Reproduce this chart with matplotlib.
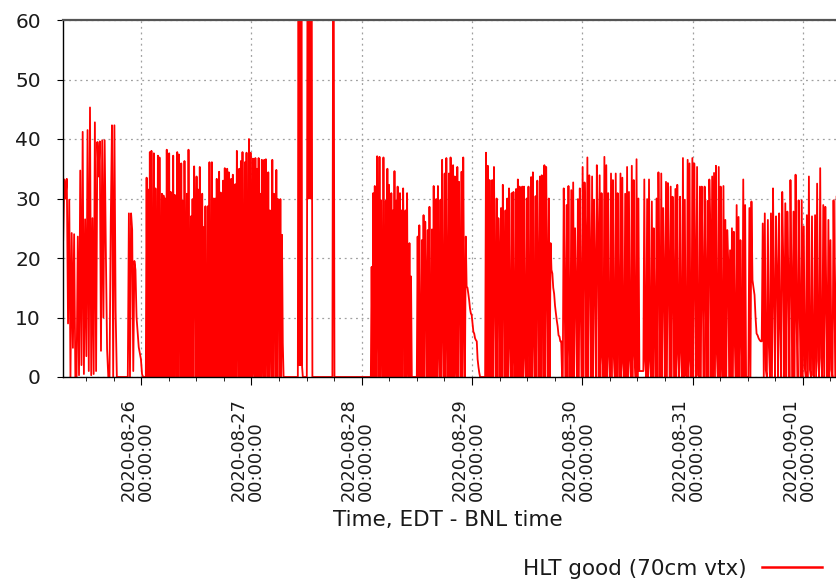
import numpy as np
import pandas as pd
import matplotlib
matplotlib.use("Agg")
import matplotlib.pyplot as plt
import matplotlib.dates as mdates
import matplotlib.transforms as mtransforms
from matplotlib.lines import Line2D

# keep every sample of the dense trace
plt.rcParams["path.simplify"] = False

# HLT good (70cm vtx) rate.
# Each block is a stretch of running; samples are evenly spaced inside a block.
block_starts = ["2020-08-25 07:02", "2020-08-25 21:06", "2020-08-26 01:01",
                "2020-08-27 10:06", "2020-08-27 12:03", "2020-08-27 17:37",
                "2020-08-28 01:59", "2020-08-28 11:59", "2020-08-29 02:51",
                "2020-08-29 19:45", "2020-08-30 13:17", "2020-08-31 12:08"]
block_ends = ["2020-08-25 18:43", "2020-08-26 00:26", "2020-08-27 07:00",
              "2020-08-27 11:11", "2020-08-27 13:16", "2020-08-27 18:04",
              "2020-08-28 10:54", "2020-08-29 01:46", "2020-08-29 19:36",
              "2020-08-30 12:25", "2020-08-31 11:38", "2020-09-01 07:20"]

rate_a = [23, 33.2, 30, 33.3, 9, 29.8, 0, 24.2, 4.9, 24, 0, 0, 23.6, 0.3, 34.7, 2,
          41.2, 0.5, 26.5, 3.5, 41.5, 1, 45.3, 0.3, 26.7, 0.5, 42.8, 1, 39.5, 33.7,
          39.6, 4.4, 39.8, 10, 39.8, 21, 4.7, 0, 0, 26, 42.3, 0, 42.3, 11, 0]
rate_b = [0, 27.5, 0, 27.5, 24.7, 1, 19.5, 18, 10, 7.5, 5, 4, 3, 0.5, 0]
rate_c = [0,
          33.5, 0, 31.5, 0, 37.8, 0, 38, 9.5, 0,
          37.6, 0, 31.7, 9.9, 0,
          37.2, 0, 36.9, 12.4, 0,
          30.8, 0, 30.5, 0, 30, 0, 38.2, 9, 0,
          37.6, 0, 31.1, 19.7, 0,
          37.2, 0, 30.6, 18.8, 0,
          37.8, 0, 37.4, 21.9, 0,
          35.9, 0, 29.6, 0, 36.3, 15.2, 0,
          30.8, 0, 38.2, 12.4, 0,
          27, 0, 29.9, 0, 35.4, 21, 0,
          33.7, 0, 31.5, 0, 35.3, 6.8, 0,
          30.8, 0, 25.2, 0, 28.7, 0.3, 0,
          28.7, 0, 36.1, 2.9, 0,
          36.1, 0, 30, 0, 30, 0, 33.3, 11.3, 0,
          34.5, 0, 31, 1.7, 0,
          33, 0, 35.1, 5.7, 0,
          35, 0, 34.4, 9, 0,
          33.3, 0, 34, 0.3, 0,
          32.4, 0, 38, 13, 0,
          35, 0, 36.3, 0, 37.8, 7.3, 0,
          36.1, 0, 37.7, 0, 0,
          40, 0, 37.7, 13.5, 0,
          36.7, 1.7, 0,
          36.8, 0, 35, 0, 36.8, 0, 30.8, 0, 36.5, 6.2, 0,
          36.5, 0, 36.6, 9, 0,
          34.4, 0, 28, 11, 0,
          36.5, 0, 30.8, 22.5, 0,
          34.8, 0, 29.9, 23.6, 0,
          29.9, 0, 23.9, 5.7, 0]
rate_d1 = [0, 95, 2, 95, 2, 95, 1.7, 0]
rate_d2 = [0, 95, 30, 95, 30, 95, 0]
rate_d3 = [0, 95, 0]
rate_e = [0, 18.5, 0, 30.9, 0, 32.1, 11.3, 0, 37.1, 10.4, 0, 37, 0, 29.7, 10.4, 0,
          36.9, 10.4, 0, 29.6, 0, 35, 0, 32.3, 1.7, 0, 30.9, 0, 28, 0, 34.6, 0,
          29.6, 0, 32, 0.3, 0, 30.9, 0, 28, 0, 31.7, 14.6, 0, 28, 0, 30.9, 3.2, 0,
          22.5, 0, 16.9, 0]
rate_f = [0, 23.6, 0, 25.5, 0.3, 0, 23, 0, 27.2, 0, 26.1, 15.8, 0, 24.7, 0, 28.6,
          6.5, 0, 24.8, 0, 32.1, 5.7, 0, 29.9, 0, 32.1, 6.2, 0, 29.8, 0, 36.5, 8.7,
          0, 34.2, 0, 36.8, 12.4, 0, 34.2, 0, 36.9, 16.6, 0, 35.6, 0, 33.7, 3.2, 0,
          35.3, 0, 32.8, 15.2, 0, 34.5, 0, 36.9, 11.8, 0, 23.6,
          15.2, 15, 14, 12.9, 11.5, 10.7, 10.4, 9, 7.6, 7.3, 6.5, 6.2, 6, 3, 1.7, 0.7, 0]
rate_g = [0, 37.7, 0, 35.5, 0, 33.1, 15.8, 0, 33.1, 0, 35.3, 15.2, 0, 30, 0, 26.7,
          19.7, 0, 28.4, 0, 32.3, 15.2, 0, 28, 0, 30, 0, 31.7, 6, 0, 30.9, 0, 31.1,
          5.4, 0, 31.6, 0, 33.2, 0, 32, 4.5, 0, 32, 0, 32, 3.7, 0, 30, 0, 32, 8.7, 0,
          33.6, 0, 34.4, 7.3, 0, 30.4, 0, 33, 16.3, 0, 33.7, 0, 33.9, 16, 0, 35.6, 0,
          35.3, 17.7, 0, 30, 0, 22.5,
          18, 17.4, 15, 14, 12, 10.7, 9.5, 8.5, 7, 6.8, 6, 6, 0]
rate_h = [0, 31.7, 12.4, 0, 28.9, 0, 32.1, 6.8, 0, 31.4, 0, 32.7, 0, 25, 14.3, 0,
          29.9, 0, 31.7, 11.8, 0, 35.3, 0, 32.7, 23.3, 0, 36.9, 0, 33.9, 19.9, 0,
          33.7, 0, 29.8, 17.7, 0, 35.6, 24.1, 0, 33.9, 0, 30.9, 3.4, 0, 37, 0, 35.6,
          0, 30.9, 3.7, 0, 34.2, 0, 33.1, 3.4, 0, 34.2, 0, 30.9, 10.7, 0, 34.2, 0,
          33.5, 2.3, 0, 30.8, 0, 35.3, 0, 31.1, 2.8, 0, 35.5, 0, 33.1, 3.6, 0, 36.6,
          0, 30, 1]
rate_i = [1, 33.2, 2.7, 0, 29.9, 0, 33.2, 2.7, 0, 29.5, 0, 25, 8.2, 0, 30, 0, 34.4,
          17.1, 0, 34.2, 0, 28.4, 16, 0, 32.8, 0, 32.6, 17.1, 0, 32, 0, 30.3, 14.9,
          0, 31.6, 0, 32.3, 4, 0, 30.3, 4.3, 0, 36.8, 0, 29.8, 0.3, 0, 36.5, 0, 35.9,
          2.7, 0, 36.8, 0, 35.9, 18.3, 0, 35.3, 0.3, 0, 32, 0, 32, 15.5, 0, 32, 15.5,
          0, 29.6, 0, 33.2, 25.3, 0, 33.7, 0, 34.3, 0, 35.5, 4, 0, 35.3, 0, 32, 4.7,
          0, 32.1, 0, 26.4, 0, 24.7, 19.7, 0, 21.3, 0, 25, 0, 24.4, 6.2, 0, 28.9, 0,
          26.9, 0, 23, 7.9, 0, 33.2, 0, 28.9, 0]
rate_k = [0, 28.4, 0, 29.5, 16.3, 15, 13.8, 10, 7.3, 7, 6.5, 6.2, 6, 6, 25.8, 0,
          27.5, 1.2, 0, 26.4, 5.1, 0, 27.5, 0, 31.7, 13.8, 0, 27, 18, 0, 27.5, 8.7, 0,
          31.1, 19.1, 0, 29.2, 0, 27.8, 16.6, 0, 33.1, 16.6, 0, 27.8, 0, 34, 9.9, 0,
          29.7, 11, 0, 29.7, 0, 25.3, 1.5, 0, 27.2, 0, 33.7, 1.2, 0, 27, 0.3, 0, 27.2,
          0, 32.5, 2.7, 0, 35.1, 3.2, 0, 28.9, 0, 28.6, 12.4, 0, 26.4, 0, 23, 1.2, 0,
          29.7, 11, 0, 30.3]

blocks = [rate_a, rate_b, rate_c, rate_d1, rate_d2, rate_d3,
          rate_e, rate_f, rate_g, rate_h, rate_i, rate_k]

times = None
rates = []
for start, end, vals in zip(block_starts, block_ends, blocks):
    t = pd.date_range(start, end, periods=len(vals))
    times = t if times is None else times.append(t)
    rates.extend(vals)

fig = plt.figure(figsize=(8.36, 5.8), dpi=100)
ax = fig.add_axes([63 / 836, 203 / 580, 773 / 836, 357 / 580])

ax.plot(times, rates, color="#ff0000", linewidth=1.3)

ax.set_ylim(0, 60)
ax.set_yticks(range(0, 61, 10))
ax.set_xlim(pd.Timestamp("2020-08-25 07:00"), pd.Timestamp("2020-09-01 07:12"))

ax.xaxis.set_major_locator(mdates.DayLocator())
ax.xaxis.set_minor_locator(mdates.HourLocator(byhour=[6, 12, 18]))
ax.xaxis.set_major_formatter(mdates.DateFormatter("%Y-%m-%d\n%H:%M:%S"))

ax.grid(True, which="major", color="#a0a0a0", linestyle=(0, (1.5, 3)), linewidth=0.9)
ax.set_axisbelow(True)

ax.spines["right"].set_visible(False)
ax.spines["top"].set_color("#555555")
ax.spines["top"].set_linewidth(1.6)
ax.spines["left"].set_linewidth(1.0)
ax.spines["bottom"].set_linewidth(1.0)

ax.tick_params(axis="y", direction="out", length=4, pad=12, labelsize=14.5,
               labelcolor="#1a1a1a")
ax.tick_params(axis="x", which="major", direction="out", length=6, pad=9,
               labelsize=12.8, labelcolor="#1a1a1a")
ax.tick_params(axis="x", which="minor", direction="out", length=3)

shift = mtransforms.ScaledTranslation(-4 / 100, 0, fig.dpi_scale_trans)
for lab in ax.get_xticklabels():
    lab.set_rotation(90)
    lab.set_ha("center")
    lab.set_va("top")
    lab.set_multialignment("left")
    lab.set_linespacing(0.95)
    lab.set_transform(lab.get_transform() + shift)

fig.text(448 / 836, 1 - 520 / 580, "Time, EDT - BNL time", ha="center", va="center",
         fontsize=15.5, color="#1a1a1a")

handle = Line2D([], [], color="#ff0000", linewidth=1.8)
fig.legend([handle], ["HLT good (70cm vtx)"], loc="center right",
           bbox_to_anchor=(822 / 836, 1 - 569 / 580), frameon=False,
           markerfirst=False, handlelength=2.8, handletextpad=0.7, fontsize=15.5,
           borderpad=0, borderaxespad=0, labelcolor="#1a1a1a")

fig.savefig("out.png", dpi=100)
